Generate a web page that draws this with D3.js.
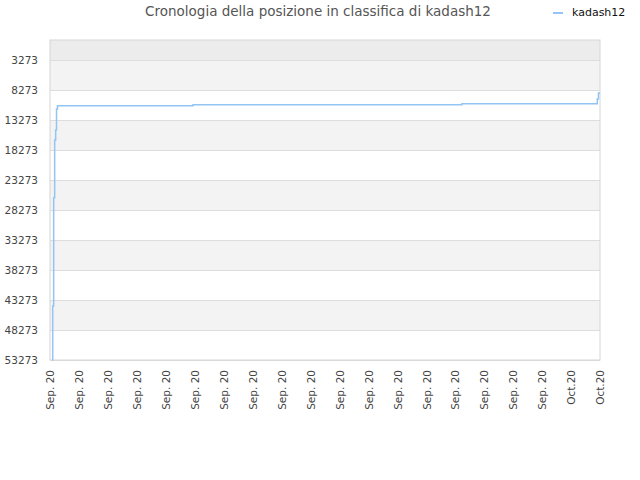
<!DOCTYPE html>
<html>
<head>
<meta charset="utf-8">
<script src="https://cdn.jsdelivr.net/npm/d3@7"></script>
<style>
  body { margin: 0; background: #fff; }
  text { font-family: "DejaVu Sans", sans-serif; }
</style>
</head>
<body>
<div id="wrapper"></div>
<script>
// data
const seriesName = "kadash12";
const dates = ["2020-09-01T03:40", "2020-09-01T03:50", "2020-09-01T05:10", "2020-09-01T06:35",
  "2020-09-01T08:00", "2020-09-01T09:10", "2020-09-01T10:35", "2020-09-09T09:35",
  "2020-09-25T04:35", "2020-10-03T03:20", "2020-10-03T05:00", "2020-10-03T07:12"];
const ranks = [53273, 44273, 26223, 16606, 14940, 11440, 10890, 10720, 10570, 9773, 8773, 8773];
const yTicks = [3273, 8273, 13273, 18273, 23273, 28273, 33273, 38273, 43273, 48273, 53273];
const xTickLabels = ["Sep. 20", "Sep. 20", "Sep. 20", "Sep. 20", "Sep. 20", "Sep. 20", "Sep. 20",
  "Sep. 20", "Sep. 20", "Sep. 20", "Sep. 20", "Sep. 20", "Sep. 20", "Sep. 20", "Sep. 20",
  "Sep. 20", "Sep. 20", "Sep. 20", "Oct.20", "Oct.20"];
const xStart = "2020-09-01T00:00";
const xEnd = "2020-10-03T07:12";

function drawChart() {
  const parse = d3.timeParse("%Y-%m-%dT%H:%M");
  const data = dates.map((d, i) => ({ date: parse(d), rank: ranks[i] }));

  const dimensions = {
    width: 640,
    height: 480,
    margin: { top: 40, right: 40, bottom: 120, left: 50 },
  };
  dimensions.boundedWidth = dimensions.width - dimensions.margin.left - dimensions.margin.right;
  dimensions.boundedHeight = dimensions.height - dimensions.margin.top - dimensions.margin.bottom;

  const svg = d3.select("#wrapper").append("svg")
    .attr("width", dimensions.width)
    .attr("height", dimensions.height);

  const bounds = svg.append("g")
    .attr("transform", `translate(${dimensions.margin.left},${dimensions.margin.top})`);

  const x = d3.scaleTime()
    .domain([parse(xStart), parse(xEnd)])
    .range([0, dimensions.boundedWidth]);

  const y = d3.scaleLinear()
    .domain([-60, 53273])
    .range([0, dimensions.boundedHeight]);

  // background bands
  bounds.append("rect")
    .attr("x", 0).attr("width", dimensions.boundedWidth)
    .attr("y", y(-60)).attr("height", y(yTicks[0]) - y(-60))
    .attr("fill", "#ececec");
  const bandPairs = d3.range(0, yTicks.length - 1, 2).map(i => [yTicks[i], yTicks[i + 1]]);
  bounds.selectAll(".band").data(bandPairs).enter().append("rect")
    .attr("class", "band")
    .attr("x", 0).attr("width", dimensions.boundedWidth)
    .attr("y", d => y(d[0]))
    .attr("height", d => y(d[1]) - y(d[0]))
    .attr("fill", "#f3f3f3");

  // y axis with gridlines
  const yAxis = bounds.append("g")
    .call(d3.axisLeft(y).tickValues(yTicks).tickSize(-dimensions.boundedWidth)
      .tickPadding(12).tickFormat(d3.format("d")));
  yAxis.select(".domain").remove();
  yAxis.selectAll("line").attr("stroke", "#dddddd");
  yAxis.selectAll("text").attr("fill", "#444").attr("font-size", "10.5px")
    .attr("font-family", "DejaVu Sans, sans-serif");

  // x axis
  const xTickDates = d3.range(xTickLabels.length).map(i =>
    new Date(+x.domain()[0] + i * (x.domain()[1] - x.domain()[0]) / (xTickLabels.length - 1)));
  const xAxis = bounds.append("g")
    .attr("transform", `translate(0,${dimensions.boundedHeight})`)
    .call(d3.axisBottom(x).tickValues(xTickDates).tickSize(0)
      .tickFormat((d, i) => xTickLabels[i]));
  xAxis.select(".domain").remove();
  xAxis.selectAll("text")
    .attr("fill", "#444").attr("font-size", "10.5px")
    .attr("font-family", "DejaVu Sans, sans-serif")
    .attr("transform", "rotate(-90)")
    .attr("text-anchor", "end")
    .attr("x", -10).attr("y", 0).attr("dy", "0.35em");

  // frame
  bounds.append("rect")
    .attr("x", 0).attr("y", 0)
    .attr("width", dimensions.boundedWidth).attr("height", dimensions.boundedHeight)
    .attr("fill", "none").attr("stroke", "#d6d6d6");

  // line
  const line = d3.line()
    .x(d => x(d.date))
    .y(d => y(d.rank))
    .curve(d3.curveStepAfter);
  bounds.append("path")
    .datum(data)
    .attr("d", line)
    .attr("fill", "none")
    .attr("stroke", "#92c4f4")
    .attr("stroke-width", 1.5);

  // title
  svg.append("text")
    .attr("x", 318).attr("y", 16)
    .attr("text-anchor", "middle")
    .attr("font-size", "13.5px")
    .attr("fill", "#555")
    .text("Cronologia della posizione in classifica di " + seriesName);

  // legend
  svg.append("line")
    .attr("x1", 553).attr("x2", 563).attr("y1", 13).attr("y2", 13)
    .attr("stroke", "#92c4f4").attr("stroke-width", 2);
  svg.append("text")
    .attr("x", 572).attr("y", 16)
    .attr("font-size", "11px")
    .attr("fill", "#111")
    .text(seriesName);
}
drawChart();
</script>
</body>
</html>
